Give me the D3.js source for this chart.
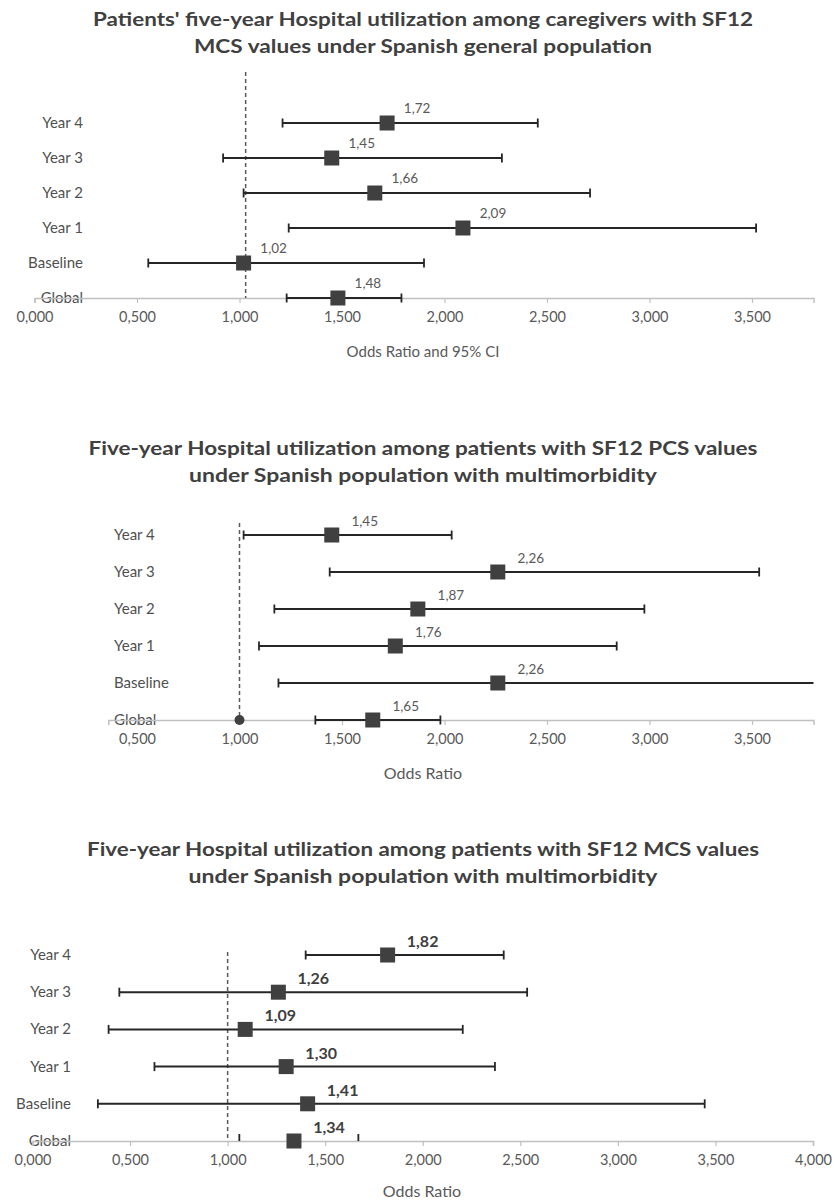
<!DOCTYPE html>
<html><head><meta charset="utf-8">
<script src="https://cdn.jsdelivr.net/npm/d3@7"></script>
<style>
html,body{margin:0;padding:0;background:#fff;}
svg{display:block;font-family:Lato,"Open Sans",sans-serif;}
</style></head>
<body>
<svg id="chart" width="835" height="1201"></svg>
<script>
// ---------- DATA ----------
const categories = ["Global", "Baseline", "Year 1", "Year 2", "Year 3", "Year 4"];

const p1Title = ["Patients' five-year Hospital utilization among caregivers with SF12",
                 "MCS values under Spanish general population"];
const p1AxisTitle = "Odds Ratio and 95% CI";
const p1OR = [1.48, 1.02, 2.09, 1.66, 1.45, 1.72];
const p1Lo = [1.23, 0.555, 1.24, 1.02, 0.92, 1.21];
const p1Hi = [1.79, 1.90, 3.52, 2.71, 2.28, 2.455];
const p1Ticks = [0, 0.5, 1, 1.5, 2, 2.5, 3, 3.5];
const p1Domain = [0, 3.8];
const p1Ref = 1.03;

const p2Title = ["Five-year Hospital utilization among patients with SF12  PCS values",
                 "under Spanish population with multimorbidity"];
const p2AxisTitle = "Odds Ratio";
const p2OR = [1.65, 2.26, 1.76, 1.87, 2.26, 1.45];
const p2Lo = [1.37, 1.19, 1.095, 1.17, 1.44, 1.02];
const p2Hi = [1.98, 3.95, 2.84, 2.975, 3.535, 2.035];
const p2Ticks = [0.5, 1, 1.5, 2, 2.5, 3, 3.5];
const p2Domain = [0.36, 3.8];
const p2Ref = 1.0;

const p3Title = ["Five-year Hospital utilization among patients with SF12 MCS values",
                 "under Spanish population with multimorbidity"];
const p3AxisTitle = "Odds Ratio";
const p3OR = [1.34, 1.41, 1.30, 1.09, 1.26, 1.82];
const p3Lo = [1.06, 0.335, 0.625, 0.39, 0.445, 1.40];
const p3Hi = [1.67, 3.445, 2.37, 2.205, 2.535, 2.415];
const p3Ticks = [0, 0.5, 1, 1.5, 2, 2.5, 3, 3.5, 4];
const p3Domain = [0, 4];
const p3Ref = 1.0;

// ---------- HELPERS ----------
const loc = d3.formatLocale({decimal: ",", thousands: ".", grouping: [3], currency: ["", ""]});
const tickFmt = loc.format(".3f");
const valFmt = loc.format(".2f");
const svg = d3.select("#chart");

function drawPanel(cfg) {
  const g = svg.append("g");
  const x = d3.scaleLinear().domain(cfg.domain).range(cfg.xRange);
  const y = d3.scalePoint().domain(categories).range(cfg.yRange);
  const rows = categories.map((c, i) => ({c, or: cfg.or[i], lo: cfg.lo[i], hi: cfg.hi[i]}));
  const dMax = cfg.domain[1];

  // title
  g.selectAll("text.title").data(cfg.title).join("text")
    .attr("x", 423).attr("y", (d, i) => cfg.titleY + i * 27)
    .attr("text-anchor", "middle")
    .attr("font-size", cfg.titleSize).attr("font-weight", 700).attr("fill", "#404040")
    .attr("textLength", (d, i) => cfg.titleLen[i]).attr("lengthAdjust", "spacingAndGlyphs")
    .text(d => d);

  // category labels
  g.selectAll("text.cat").data(categories).join("text")
    .attr("x", cfg.catX).attr("y", d => y(d) + 5)
    .attr("text-anchor", cfg.catAnchor)
    .attr("font-size", 15).attr("fill", "#505050")
    .text(d => d);

  // axis
  const ax = d3.axisBottom(x).tickValues(cfg.ticks).tickFormat(tickFmt).tickSize(5).tickPadding(9);
  const axG = g.append("g").attr("transform", `translate(0,${y("Global")})`).call(ax);
  axG.select(".domain").attr("stroke", "#c0c0c0").attr("stroke-width", 1.5);
  axG.selectAll(".tick line").attr("stroke", "#c0c0c0").attr("stroke-width", 1.2);
  axG.selectAll(".tick text").attr("fill", "#595959").attr("font-size", 14.5)
     .attr("font-family", "Lato, sans-serif");

  // axis title
  g.append("text").attr("x", cfg.axisTitleX).attr("y", cfg.axisTitleY)
    .attr("text-anchor", "middle").attr("font-size", cfg.axisTitleSize).attr("fill", "#595959")
    .text(cfg.axisTitle);

  // reference line
  g.append("line")
    .attr("x1", x(cfg.ref)).attr("x2", x(cfg.ref))
    .attr("y1", cfg.refTop).attr("y2", y("Global"))
    .attr("stroke", "#595959").attr("stroke-width", 1.5).attr("stroke-dasharray", "4,3");
  if (cfg.refDot) {
    g.append("circle").attr("cx", x(cfg.ref)).attr("cy", y("Global")).attr("r", 5).attr("fill", "#404040");
  }

  // error bars
  const eb = g.selectAll("g.eb").data(rows).join("g");
  eb.filter(d => !(cfg.globalCapsOnly && d.c === "Global"))
    .append("line")
    .attr("x1", d => x(d.lo)).attr("x2", d => x(Math.min(d.hi, dMax)))
    .attr("y1", d => y(d.c)).attr("y2", d => y(d.c))
    .attr("stroke", "#262626").attr("stroke-width", 2);
  const capUp = d => (cfg.globalCapsOnly && d.c === "Global") ? 7 : 4.5;
  const capDn = d => (cfg.globalCapsOnly && d.c === "Global") ? 0 : 4.5;
  eb.append("line")
    .attr("x1", d => x(d.lo)).attr("x2", d => x(d.lo))
    .attr("y1", d => y(d.c) - capUp(d)).attr("y2", d => y(d.c) + capDn(d))
    .attr("stroke", "#262626").attr("stroke-width", 1.8);
  eb.filter(d => d.hi <= dMax).append("line")
    .attr("x1", d => x(d.hi)).attr("x2", d => x(d.hi))
    .attr("y1", d => y(d.c) - capUp(d)).attr("y2", d => y(d.c) + capDn(d))
    .attr("stroke", "#262626").attr("stroke-width", 1.8);

  // markers
  const ms = 15;
  g.selectAll("rect.mk").data(rows).join("rect")
    .attr("x", d => x(d.or) - ms / 2).attr("y", d => y(d.c) - ms / 2)
    .attr("width", ms).attr("height", ms).attr("fill", "#404040");

  // value labels
  g.selectAll("text.val").data(rows).join("text")
    .attr("x", d => x(d.or) + cfg.lblDx).attr("y", d => y(d.c) + cfg.lblDy)
    .attr("text-anchor", "middle")
    .attr("font-size", cfg.lblSize).attr("font-weight", cfg.lblWeight).attr("fill", cfg.lblColor)
    .text(d => valFmt(d.or));
}

drawPanel({
  title: p1Title, titleY: 26, titleSize: 18, titleLen: [660, 458],
  or: p1OR, lo: p1Lo, hi: p1Hi, ticks: p1Ticks, domain: p1Domain, ref: p1Ref,
  xRange: [34.5, 813.5], yRange: [298, 123],
  catX: 83, catAnchor: "end",
  axisTitle: p1AxisTitle, axisTitleX: 423, axisTitleY: 357, axisTitleSize: 15,
  refTop: 72, refDot: false, globalCapsOnly: false,
  lblDx: 30, lblDy: -10, lblSize: 13.5, lblWeight: 400, lblColor: "#595959"
});

drawPanel({
  title: p2Title, titleY: 455, titleSize: 18, titleLen: [669, 468],
  or: p2OR, lo: p2Lo, hi: p2Hi, ticks: p2Ticks, domain: p2Domain, ref: p2Ref,
  xRange: [34.5 + 0.36 * 205, 813.5], yRange: [720, 535],
  catX: 114, catAnchor: "start",
  axisTitle: p2AxisTitle, axisTitleX: 423, axisTitleY: 779, axisTitleSize: 16,
  refTop: 523, refDot: true, globalCapsOnly: false,
  lblDx: 33, lblDy: -9, lblSize: 13.5, lblWeight: 400, lblColor: "#595959"
});

drawPanel({
  title: p3Title, titleY: 856, titleSize: 18.5, titleLen: [672, 469],
  or: p3OR, lo: p3Lo, hi: p3Hi, ticks: p3Ticks, domain: p3Domain, ref: p3Ref,
  xRange: [32.5, 813], yRange: [1141, 955],
  catX: 71, catAnchor: "end",
  axisTitle: p3AxisTitle, axisTitleX: 422, axisTitleY: 1197, axisTitleSize: 16,
  refTop: 952, refDot: false, globalCapsOnly: true,
  lblDx: 35, lblDy: -8, lblSize: 16, lblWeight: 700, lblColor: "#404040"
});
</script>
</body></html>
